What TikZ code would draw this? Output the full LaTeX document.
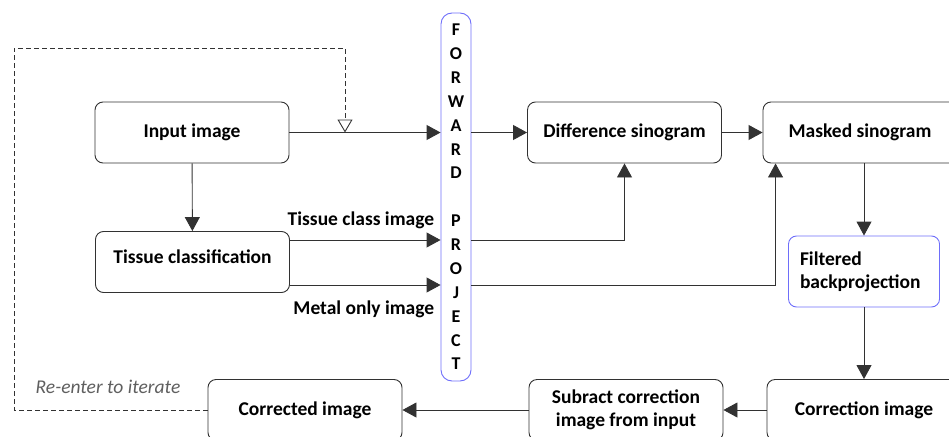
\documentclass[tikz,border=0pt]{standalone}
\usepackage{fontspec}
\setmainfont{Carlito}
\usetikzlibrary{arrows.meta}

\definecolor{fpblue}{RGB}{110,110,250}
\definecolor{edgegray}{RGB}{50,50,50}
\definecolor{notegray}{RGB}{95,95,95}

\begin{document}
\begin{tikzpicture}[x=1pt,y=-1pt,line width=0.9pt,
    box/.style={draw=edgegray, rounded corners=8pt, minimum width=194pt,
        minimum height=61pt, inner sep=0pt, align=center,
        font=\bfseries\fontsize{19.5}{23}\selectfont},
    fwdbox/.style={draw=fpblue, rounded corners=11pt, minimum width=30pt,
        minimum height=368pt, inner sep=0pt, align=center,
        font=\bfseries\fontsize{18}{23.86}\selectfont},
    lbl/.style={font=\bfseries\fontsize{19.5}{23}\selectfont, inner sep=2pt},
    arr/.style={draw=edgegray, -{Triangle[length=14pt,width=15pt]}},
    loopline/.style={draw=edgegray, dashed, dash pattern=on 5pt off 3pt,
        -{Triangle[open,length=13pt,width=15pt]}}]
    \useasboundingbox (0,0) rectangle (949,436);
    \clip (0,0) rectangle (949,436);

    % processing blocks
    \node[box] (input) at (192,132.5) {Input image};
    \node[box, text depth=10pt] (tissue) at (192.5,262) {Tissue classification};
    \node[fwdbox] (fwd) at (456,197)
        {F\\O\\R\\W\\A\\R\\D\\[23.86pt]P\\R\\O\\J\\E\\C\\T};
    \node[box] (diff) at (624.5,132.5) {Difference sinogram};
    \node[box] (masked) at (860,132.5) {Masked sinogram};
    \node[box, draw=fpblue, minimum width=151pt, minimum height=71pt,
        text width=128pt, align=left] (fbp) at (864,271.5)
        {Filtered\\backprojection};
    \node[box] (corr) at (864,410) {Correction image};
    \node[box] (sub) at (626,410) {Subract correction\\image from input};
    \node[box] (corrected) at (305,410) {Corrected image};

    % into the forward projector
    \draw[arr] (input) -- (input -| fwd.west);
    \draw[arr] (input) -- (tissue);
    \coordinate (tcl) at ([yshift=22pt]tissue.east);
    \coordinate (mol) at ([yshift=-23pt]tissue.east);
    \draw[arr] (tcl) -- (tcl -| fwd.west)
        node[lbl, above left, xshift=-4pt, yshift=9pt] {Tissue class image};
    \draw[arr] (mol) -- (mol -| fwd.west)
        node[lbl, below left, xshift=-4pt, yshift=-13pt] {Metal only image};

    % out of the forward projector
    \draw[arr] (fwd.east |- input) -- (diff);
    \draw[arr] (diff) -- (masked);
    \draw[arr] (fwd.east |- tcl) -| (diff.south);
    \draw[arr] (fwd.east |- mol) -| ([xshift=13pt]masked.south west);

    % reconstruction of the correction
    \draw[arr] (fbp |- masked.south) -- (fbp);
    \draw[arr] (fbp) -- (fbp |- corr.north);
    \draw[arr] (corr) -- (sub);
    \draw[arr] (sub) -- (corrected);

    % feedback loop
    \coordinate (loop) at (14,48);
    \coordinate (rejoin) at (345,132.5);
    \draw[loopline] (corrected.west) -| (loop) -| (rejoin);
    \node[font=\itshape\fontsize{19.5}{23}\selectfont, text=notegray]
        (iter) at (108,387) {Re-enter to iterate};
\end{tikzpicture}
\end{document}
